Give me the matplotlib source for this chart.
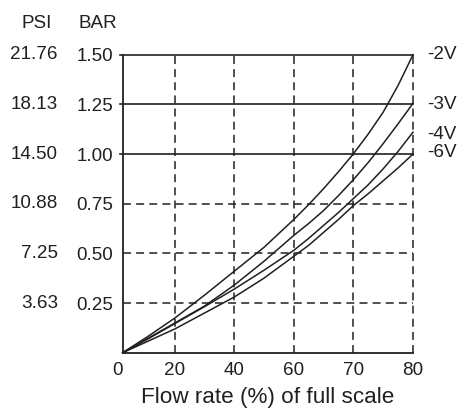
import numpy as np
import matplotlib
matplotlib.use('Agg')
import matplotlib.pyplot as plt

plt.rcParams['font.family'] = ['Liberation Sans', 'DejaVu Sans']

# ---- data ----
flow = [0, 10, 20, 30, 40, 50, 60, 62.5, 65, 67.5, 70, 72.5, 75, 77.5, 80]
v_2 = [0, 0.085, 0.175, 0.29, 0.41, 0.53, 0.67, 0.745, 0.825, 0.91, 1.00, 1.10, 1.21, 1.345, 1.50]
v_3 = [0, 0.075, 0.150, 0.235, 0.34, 0.46, 0.59, 0.65, 0.715, 0.79, 0.87, 0.957, 1.052, 1.152, 1.255]
v_4 = [0, 0.072, 0.147, 0.232, 0.32, 0.415, 0.515, 0.575, 0.64, 0.705, 0.775, 0.845, 0.925, 1.013, 1.11]
v_6 = [0, 0.060, 0.120, 0.200, 0.28, 0.375, 0.485, 0.54, 0.605, 0.67, 0.74, 0.80, 0.865, 0.93, 1.00]
series = [v_2, v_3, v_4, v_6]
series_labels = ['-2V', '-3V', '-4V', '-6V']
label_y = [1.50, 1.25, 1.10, 1.01]

x_ticks = [0, 20, 40, 60, 70, 80]
x_tick_pos = [0, 52.3, 111.5, 171.0, 230.5, 290.3]   # non-uniform axis spacing
bar_ticks = [0.25, 0.50, 0.75, 1.00, 1.25, 1.50]
bar_labels = ['0.25', '0.50', '0.75', '1.00', '1.25', '1.50']
psi_labels = ['3.63', '7.25', '10.88', '14.50', '18.13', '21.76']
dashed_h = [0.25, 0.50, 0.75]
solid_h = [1.00, 1.25]
dashed_v = [20, 40, 60, 70, 80]

ink = '#231f20'
fs = 13.6

fig = plt.figure(figsize=(4.63, 4.11), dpi=100)
ax = fig.add_axes([122.7/463, 1-352.7/411, 290.3/463, 298/411])

fwd = lambda x: np.interp(x, x_ticks, x_tick_pos)
inv = lambda p: np.interp(p, x_tick_pos, x_ticks)
ax.set_xscale('function', functions=(fwd, inv))
ax.set_xlim(0, 80)
ax.set_ylim(0, 1.5)

dash = (0, (5.2, 3.4))
for y in dashed_h:
    ax.axhline(y, color=ink, lw=1.1, ls=dash, zorder=1)
for y in solid_h:
    ax.axhline(y, xmin=-0.01, xmax=1, color=ink, lw=1.2, zorder=1, clip_on=False)
ax.axhline(1.5, xmin=-0.01, xmax=1, color=ink, lw=1.2, zorder=1, clip_on=False)
for x in dashed_v:
    ax.axvline(x, color=ink, lw=1.1, ls=dash, zorder=1, clip_on=False)

for vals in series:
    ax.plot(flow, vals, color=ink, lw=1.1, clip_on=False, zorder=3)

for lab, y in zip(series_labels, label_y):
    ax.text(1.047, y, lab, transform=ax.get_yaxis_transform(), ha='left',
            va='center', fontsize=fs, color=ink)

for lab, y in zip(psi_labels, bar_ticks):
    ax.text(-0.223, y, lab, transform=ax.get_yaxis_transform(), ha='right',
            va='center', fontsize=fs, color=ink)

fig.text(37/463, 1-24/411, 'PSI', ha='center', va='center', fontsize=fs, color=ink)
fig.text(97.5/463, 1-24/411, 'BAR', ha='center', va='center', fontsize=fs, color=ink)

ax.set_xticks(x_ticks)
ax.set_xticklabels([str(t) for t in x_ticks])
ax.get_xticklabels()[0].set_ha('right')
ax.set_yticks(bar_ticks)
ax.set_yticklabels(bar_labels)
ax.tick_params(axis='both', length=0, labelsize=fs, colors=ink)
ax.tick_params(axis='y', pad=7)
ax.tick_params(axis='x', pad=6.5)
ax.minorticks_off()

for s in ['top', 'right']:
    ax.spines[s].set_visible(False)
for s in ['left', 'bottom']:
    ax.spines[s].set_color(ink)
    ax.spines[s].set_linewidth(1.3)

ax.set_xlabel('Flow rate (%) of full scale', fontsize=16.2, color=ink, labelpad=6)

fig.savefig('out.png', dpi=100)
